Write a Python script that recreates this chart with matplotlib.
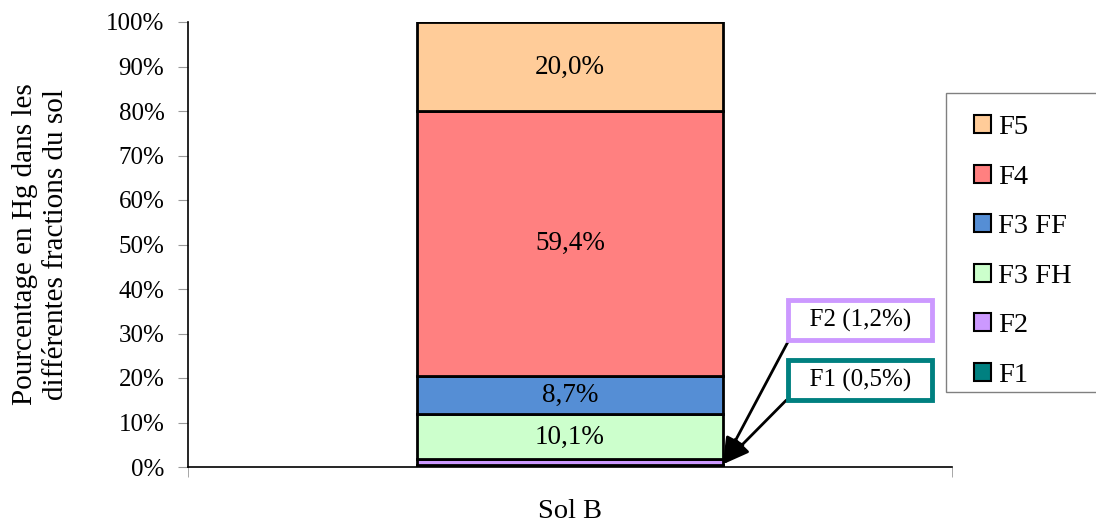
import matplotlib
matplotlib.use("Agg")
import matplotlib.pyplot as plt
from matplotlib.patches import Patch, Rectangle

plt.rcParams['font.family'] = ['Liberation Serif', 'DejaVu Serif']

# données
categorie = "Sol B"
fractions = ["F1", "F2", "F3 FH", "F3 FF", "F4", "F5"]
valeurs = [0.5, 1.2, 10.1, 8.7, 59.4, 20.0]
couleurs = ["#008080", "#CC99FF", "#CCFFCC", "#558ED5", "#FF8080", "#FFCC99"]
yticks = [0, 10, 20, 30, 40, 50, 60, 70, 80, 90, 100]

W, H = 1096, 522
fig = plt.figure(figsize=(W / 100, H / 100), dpi=100)
ax = fig.add_axes([188/W, 55/H, 764/W, 445/H])

bas = 0
for nom, v, c in zip(fractions, valeurs, couleurs):
    ax.bar(0, v, width=0.4, bottom=bas, color=c, edgecolor="black", linewidth=2, label=nom)
    if v > 5:
        ax.text(0, bas + v / 2, f"{v:.1f}%".replace(".", ","), ha="center", va="center", fontsize=19.5)
    bas += v

ax.set_xlim(-0.5, 0.5)
ax.set_ylim(0, 100)
ax.set_yticks(yticks)
ax.set_yticklabels([f"{t}%" for t in yticks], fontsize=18)
ax.tick_params(axis="y", length=7, color="#999999", pad=10)
ax.set_xticks([0])
ax.set_xticklabels([categorie], fontsize=20.5)
ax.tick_params(axis="x", length=0, pad=23)
ax.set_xticks([-0.5, 0.5], minor=True)
ax.tick_params(axis="x", which="minor", length=7, color="#999999")
for s in ["top", "right"]:
    ax.spines[s].set_visible(False)
ax.spines["left"].set_linewidth(1.2)
ax.spines["bottom"].set_linewidth(1.2)

ax.set_ylabel("Pourcentage en Hg dans les\ndifférentes fractions du sol", fontsize=21, linespacing=1.25)
ax.yaxis.set_label_coords(-119/764, 0.5)

# annotations F2 / F1
fleche = dict(arrowstyle="-|>,head_length=0.9,head_width=0.35", color="black", lw=2, shrinkA=0, shrinkB=0)
ax.annotate("  F2 (1,2%)  ", xy=(0.2, 0.6), xytext=(0.3796, 33.0), fontsize=18, ha="center", va="center",
            bbox=dict(boxstyle="square,pad=0.34", fc="white", ec="#CC99FF", lw=3.5),
            arrowprops=dict(fleche, relpos=(0, 0.27)))
ax.annotate("  F1 (0,5%)  ", xy=(0.2, 0.6), xytext=(0.3796, 19.55), fontsize=18, ha="center", va="center",
            bbox=dict(boxstyle="square,pad=0.34", fc="white", ec="#008080", lw=3.5),
            arrowprops=dict(fleche, relpos=(0, 0.08)))

# légende
fig.patches.append(Rectangle((946/W, 1 - 392/H), 160/W, 299/H, transform=fig.transFigure,
                             fc="white", ec="#808080", lw=1, clip_on=False))
poignees = [Patch(facecolor=c, edgecolor="black", linewidth=1.5, label=n) for n, c in zip(fractions, couleurs)]
leg = fig.legend(handles=poignees[::-1], loc="upper left", bbox_to_anchor=(974/W, 1 - 115/H),
                 fontsize=20.5, frameon=False, handlelength=0.6, handleheight=0.6, handletextpad=0.25,
                 labelspacing=0.86, borderpad=0, borderaxespad=0)

fig.savefig("out.png", dpi=100)
